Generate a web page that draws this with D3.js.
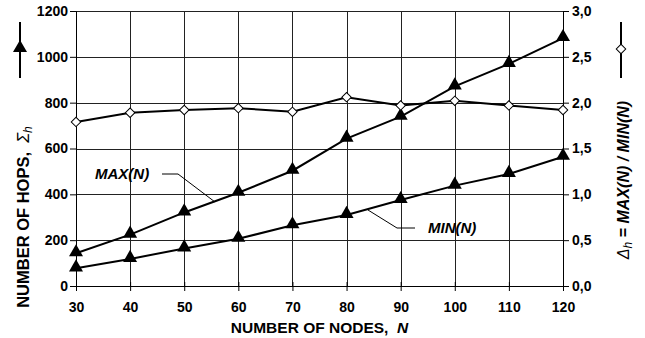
<!DOCTYPE html>
<html>
<head>
<meta charset="utf-8">
<script src="https://cdn.jsdelivr.net/npm/d3@7"></script>
<style>
  body { margin: 0; background: #fff; }
  svg text { font-family: "Liberation Sans", Arial, sans-serif; font-weight: bold; fill: #000; }
</style>
</head>
<body>
<div id="chart"></div>
<script>
const nodes = [30, 40, 50, 60, 70, 80, 90, 100, 110, 120];
const maxHops = [143, 224, 321, 407, 503, 643, 739, 871, 969, 1082];
const minHops = [77, 118, 164, 206, 265, 310, 375, 438, 489, 564];
const ratio = [1.79, 1.89, 1.92, 1.94, 1.90, 2.06, 1.97, 2.02, 1.97, 1.92];
const leftTicks = [0, 200, 400, 600, 800, 1000, 1200];
const rightTicks = [0, 0.5, 1, 1.5, 2, 2.5, 3];

const width = 645, height = 338;
const margin = { top: 11, right: 82, bottom: 52, left: 76 };

const svg = d3.select('#chart').append('svg')
  .attr('width', width)
  .attr('height', height);

const x = d3.scaleLinear().domain([30, 120]).range([margin.left, width - margin.right]);
const yL = d3.scaleLinear().domain([0, 1200]).range([height - margin.bottom, margin.top]);
const yR = d3.scaleLinear().domain([0, 3]).range([height - margin.bottom, margin.top]);

// grid
const grid = svg.append('g').attr('stroke', '#222').attr('stroke-width', 1);
grid.selectAll('.gx').data(nodes).enter().append('line')
  .attr('x1', d => Math.round(x(d)) + 0.5).attr('x2', d => Math.round(x(d)) + 0.5)
  .attr('y1', yL(1200)).attr('y2', yL(0));
grid.selectAll('.gy').data(leftTicks).enter().append('line')
  .attr('x1', x(30)).attr('x2', x(120))
  .attr('y1', d => Math.round(yL(d)) + 0.5).attr('y2', d => Math.round(yL(d)) + 0.5);

// axes
const fmtR = d => d3.format('.1f')(d).replace('.', ',');
const axL = svg.append('g').attr('transform', `translate(${x(30)},0)`)
  .call(d3.axisLeft(yL).tickValues(leftTicks).tickFormat(d3.format('d')).tickSize(6).tickPadding(2));
const axR = svg.append('g').attr('transform', `translate(${x(120)},0)`)
  .call(d3.axisRight(yR).tickValues(rightTicks).tickFormat(fmtR).tickSize(6).tickPadding(3));
const axB = svg.append('g').attr('transform', `translate(0,${yL(0)})`)
  .call(d3.axisBottom(x).tickValues(nodes).tickSize(5).tickPadding(11));
[axL, axR, axB].forEach(a => {
  a.select('.domain').attr('stroke', '#000').attr('stroke-width', 1);
  a.selectAll('.tick line').attr('stroke', '#000');
  a.selectAll('text').style('font-size', '14px').style('font-weight', 'bold')
    .style('font-family', '"Liberation Sans", Arial, sans-serif');
});
axB.selectAll('.tick line').attr('y1', -4);

// lines
const lineL = d3.line().x((d, i) => x(nodes[i])).y(d => yL(d));
const lineR = d3.line().x((d, i) => x(nodes[i])).y(d => yR(d));
[maxHops, minHops].forEach(s => {
  svg.append('path').datum(s).attr('d', lineL)
    .attr('fill', 'none').attr('stroke', '#000').attr('stroke-width', 2);
});
svg.append('path').datum(ratio).attr('d', lineR)
  .attr('fill', 'none').attr('stroke', '#000').attr('stroke-width', 2);

const tri = d3.symbol().type(d3.symbolTriangle).size(85);
const dia = d3.symbol().type(d3.symbolSquare).size(45);
[maxHops, minHops].forEach(s => {
  svg.append('g').selectAll('path').data(s).enter().append('path')
    .attr('d', tri)
    .attr('transform', (d, i) => `translate(${x(nodes[i])},${yL(d) - 1})`)
    .attr('fill', '#000');
});
svg.append('g').selectAll('path').data(ratio).enter().append('path')
  .attr('d', dia)
  .attr('transform', (d, i) => `translate(${x(nodes[i])},${yR(d)}) rotate(45)`)
  .attr('fill', '#fff').attr('stroke', '#000').attr('stroke-width', 1);

// annotations
svg.append('text').attr('x', 95).attr('y', 179)
  .style('font-size', '15px').style('font-style', 'italic').text('MAX(N)');
svg.append('polyline')
  .attr('points', '162,174 178,174 215,202')
  .attr('fill', 'none').attr('stroke', '#000').attr('stroke-width', 1);
svg.append('text').attr('x', 428).attr('y', 233)
  .style('font-size', '15px').style('font-style', 'italic').text('MIN(N)');
svg.append('polyline')
  .attr('points', '415,228 397,228 368,210')
  .attr('fill', 'none').attr('stroke', '#000').attr('stroke-width', 1);

// axis titles
svg.append('text').attr('x', (x(30) + x(120)) / 2).attr('y', 333)
  .attr('text-anchor', 'middle').style('font-size', '15.5px')
  .html('NUMBER OF NODES,&#160;&#160;<tspan font-style="italic">N</tspan>');

svg.append('text').attr('transform', 'translate(29,217) rotate(-90)')
  .attr('text-anchor', 'middle').style('font-size', '16.5px')
  .html('NUMBER OF HOPS,&#160;&#160;<tspan font-style="italic" font-weight="normal">Σ</tspan><tspan font-style="italic" font-weight="normal" font-size="12px" dy="3">h</tspan>');

svg.append('text').attr('transform', 'translate(629,180) rotate(-90)')
  .attr('text-anchor', 'middle').style('font-size', '16px')
  .html('<tspan font-style="italic" font-weight="normal">Δ</tspan><tspan font-style="italic" font-weight="normal" font-size="12px" dy="3">h</tspan><tspan dy="-3"> = </tspan><tspan font-style="italic">MAX(N) / MIN(N)</tspan>');

// legend glyphs
svg.append('line').attr('x1', 20).attr('x2', 20).attr('y1', 22).attr('y2', 78)
  .attr('stroke', '#000').attr('stroke-width', 2);
svg.append('path').attr('d', tri).attr('transform', 'translate(20,48)').attr('fill', '#000');
svg.append('line').attr('x1', 621).attr('x2', 621).attr('y1', 22).attr('y2', 78)
  .attr('stroke', '#000').attr('stroke-width', 2);
svg.append('path').attr('d', dia)
  .attr('transform', 'translate(621,49) rotate(45)')
  .attr('fill', '#fff').attr('stroke', '#000').attr('stroke-width', 1);
</script>
</body>
</html>
